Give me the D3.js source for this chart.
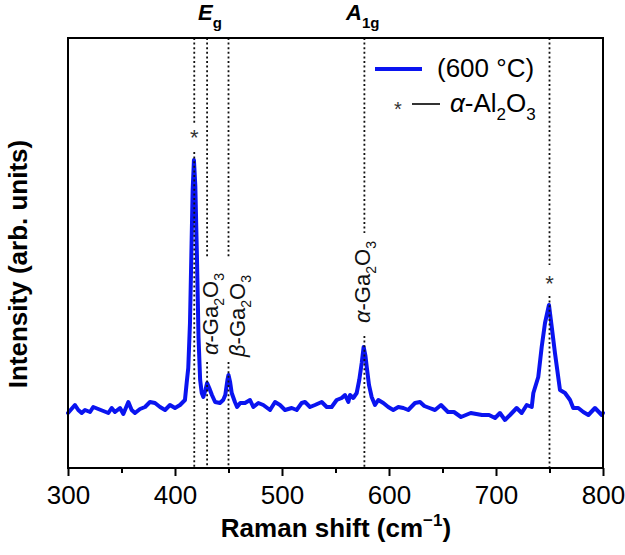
<!DOCTYPE html>
<html>
<head>
<meta charset="utf-8">
<script src="https://cdn.jsdelivr.net/npm/d3@7/dist/d3.min.js"></script>
<style>
  html, body { margin: 0; padding: 0; background: #fff; }
  svg { display: block; font-family: "Liberation Sans", Arial, sans-serif; }
</style>
</head>
<body>
<svg id="chart" width="625" height="555"></svg>
<script>
// ---- data ----
const ramanShift = [300.0,306.5,309.6,312.8,315.9,320.6,323.6,328.3,333.0,337.7,340.8,343.9,348.6,351.7,356.4,359.5,362.6,367.3,372.0,376.6,381.3,386.0,390.7,395.3,400.0,404.7,409.3,410.9,412.4,414.0,415.5,416.5,417.7,419.0,420.5,422.0,423.5,425.0,426.5,428.5,430.0,432.0,434.5,437.5,442.0,445.0,447.0,449.0,450.0,451.5,453.0,456.0,458.0,461.0,465.4,470.1,473.2,477.9,482.5,488.8,493.5,498.1,502.8,509.1,513.7,518.4,521.5,526.2,530.8,537.1,541.8,546.4,551.1,555.8,558.9,562.0,563.6,566.6,569.8,572.2,574.5,576.3,578.0,579.2,581.3,583.8,586.9,590.0,594.7,599.3,604.0,608.7,613.4,618.0,624.3,629.0,633.0,637.9,643.0,648.6,655.1,660.7,667.3,676.4,686.9,693.5,699.1,703.7,708.4,713.1,719.3,724.0,728.7,733.4,734.9,739.5,742.7,745.8,749.5,752.1,755.1,759.8,764.5,769.2,772.2,776.9,781.6,786.3,792.5,798.8,800.0];
const intensity = [55,63,58,55,58,56,61,59,57,55,60,56,60,54,66,58,55,59,61,66,65,61,58,63,60,63,68,85,100,145,225,278,308,282,212,130,88,75,71,78,85,80,73,66,65,68,73,88,93,86,75,66,61,65,65,68,61,65,63,58,66,63,58,60,58,65,66,61,63,66,61,61,68,70,73,66,73,70,75,88,105,121,112,101,83,71,63,68,65,61,58,61,60,58,65,66,62,60,58,63,56,56,51,55,53,53,50,55,48,53,60,55,63,61,75,91,121,145,163,141,115,78,75,68,60,60,56,53,60,53,55];

const xTicksMajor = [300, 400, 500, 600, 700, 800];
const xTicksMinor = [350, 450, 550, 650, 750];

// reference (dotted) lines, with the intensity ranges where they are interrupted
const refLines = [418, 430, 450, 577, 750];
const refGaps  = [[316, 343], [106, 210], [106, 210], [132, 235], [172, 203]];
// asterisk marks (alpha-Al2O3 peaks)
const starPos = [418, 750];
const starLevel = [335, 189];

// ---- layout ----
const L = 68, R = 603, T = 38, B = 468;
const svg = d3.select("#chart");
const x = d3.scaleLinear().domain([300, 800]).range([L, R]);
const y = d3.scaleLinear().domain([0, 430]).range([B, T]);
const blue = "#0a14f0";

// curve
const line = d3.line().x((d, i) => x(ramanShift[i])).y(d => y(d)).curve(d3.curveLinear);
svg.append("path").datum(intensity)
  .attr("d", line).attr("fill", "none").attr("stroke", blue)
  .attr("stroke-width", 4).attr("stroke-linejoin", "round").attr("stroke-linecap", "round");

// dotted reference lines (drawn over the curve)
refLines.forEach((v, i) => {
  const g = refGaps[i];
  const segs = [[y.domain()[1], g[1]], [g[0], 0]];
  segs.forEach(s => {
    svg.append("line")
      .attr("x1", x(v)).attr("x2", x(v))
      .attr("y1", y(s[0])).attr("y2", y(s[1]))
      .attr("stroke", "#111").attr("stroke-width", 1.8)
      .attr("stroke-dasharray", "2,2.6");
  });
});

// stars
starPos.forEach((v, i) => {
  svg.append("text").attr("x", x(v)).attr("y", y(starLevel[i]) + 12)
    .attr("text-anchor", "middle").attr("font-size", 22).attr("fill", "#333").text("*");
});

// frame
svg.append("rect").attr("x", L).attr("y", T).attr("width", R - L).attr("height", B - T)
  .attr("fill", "none").attr("stroke", "#000").attr("stroke-width", 2);

// x axis
const axMajor = svg.append("g").attr("transform", `translate(0,${B})`)
  .call(d3.axisBottom(x).tickValues(xTicksMajor).tickSize(8).tickPadding(10).tickFormat(d3.format("d")));
axMajor.select(".domain").remove();
axMajor.selectAll("line").attr("stroke", "#000").attr("stroke-width", 2);
axMajor.selectAll("text").attr("font-size", 26).attr("fill", "#000")
  .attr("font-family", "'Liberation Sans', Arial, sans-serif");
const axMinor = svg.append("g").attr("transform", `translate(0,${B})`)
  .call(d3.axisBottom(x).tickValues(xTicksMinor).tickSize(5).tickFormat(""));
axMinor.select(".domain").remove();
axMinor.selectAll("line").attr("stroke", "#000").attr("stroke-width", 2);

// axis titles
const xt = svg.append("text").attr("x", 336).attr("y", 537).attr("text-anchor", "middle")
  .attr("font-size", 26).attr("font-weight", "bold");
xt.append("tspan").text("Raman shift (cm");
xt.append("tspan").attr("font-size", 17).attr("dy", -11).text("\u22121");
xt.append("tspan").attr("dy", 11).text(")");

svg.append("text").attr("transform", "translate(27,264) rotate(-90)")
  .attr("text-anchor", "middle").attr("font-size", 26).attr("font-weight", "bold")
  .text("Intensity (arb. units)");

// mode labels on top
function modeLabel(xp, main, sub) {
  const t = svg.append("text").attr("x", xp).attr("y", 20)
    .attr("font-size", 22).attr("font-weight", "bold");
  t.append("tspan").attr("font-style", "italic").text(main);
  t.append("tspan").attr("font-size", 15).attr("dy", 8).text(sub);
}
modeLabel(198, "E", "g");
modeLabel(346, "A", "1g");

// rotated phase labels
function phaseLabel(bx, by, greek) {
  const t = svg.append("text").attr("transform", `translate(${bx},${by}) rotate(-90)`)
    .attr("font-size", 22).attr("fill", "#111");
  t.append("tspan").attr("font-style", "italic").text(greek);
  t.append("tspan").text("-Ga");
  t.append("tspan").attr("font-size", 14).attr("dy", 6).text("2");
  t.append("tspan").attr("dy", -6).text("O");
  t.append("tspan").attr("font-size", 14).attr("dy", 6).text("3");
}
phaseLabel(x(430) + 11, 355, "\u03b1");
phaseLabel(x(450) + 16, 357, "\u03b2");
phaseLabel(x(577) + 6, 323, "\u03b1");

// legend
svg.append("line").attr("x1", 375).attr("x2", 422).attr("y1", 69).attr("y2", 69)
  .attr("stroke", blue).attr("stroke-width", 4);
svg.append("text").attr("x", 437).attr("y", 77).attr("font-size", 26).text("(600 \u00b0C)");
svg.append("text").attr("x", 398).attr("y", 116).attr("text-anchor", "middle")
  .attr("font-size", 20).attr("fill", "#333").text("*");
svg.append("line").attr("x1", 412).attr("x2", 440).attr("y1", 104).attr("y2", 104)
  .attr("stroke", "#000").attr("stroke-width", 1.6);
const lg = svg.append("text").attr("x", 450).attr("y", 112).attr("font-size", 26);
lg.append("tspan").attr("font-style", "italic").text("\u03b1");
lg.append("tspan").text("-Al");
lg.append("tspan").attr("font-size", 17).attr("dy", 8).text("2");
lg.append("tspan").attr("dy", -8).text("O");
lg.append("tspan").attr("font-size", 17).attr("dy", 8).text("3");
</script>
</body>
</html>
